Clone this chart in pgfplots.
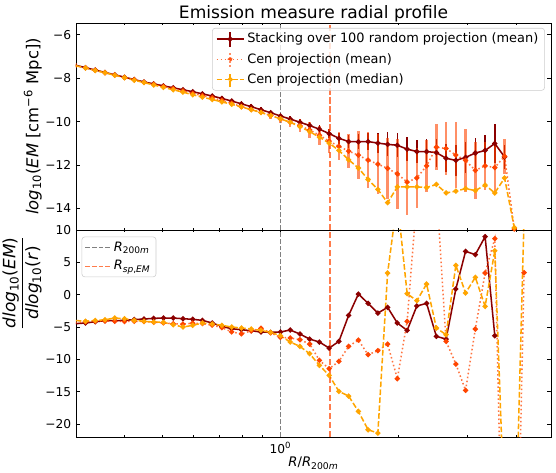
\documentclass[border=0pt]{standalone}
\usepackage{fontspec}
\setmainfont{DejaVu Sans}
\usepackage{pgfplots}
\usepackage{pgfplotstable}
\pgfplotsset{compat=1.18}

\definecolor{cDark}{HTML}{8B0000}
\definecolor{cMean}{HTML}{FF4500}
\definecolor{cMed}{HTML}{FFA500}
\definecolor{cGrey}{HTML}{808080}
\definecolor{cLeg}{HTML}{CCCCCC}

\pgfplotstableread{
x y e
0.3005 -7.40 0.08
0.3183 -7.51 0.08
0.3371 -7.62 0.08
0.3569 -7.73 0.08
0.3779 -7.84 0.08
0.4002 -7.95 0.09
0.4238 -8.06 0.09
0.4488 -8.17 0.09
0.4751 -8.26 0.09
0.5031 -8.35 0.10
0.5327 -8.44 0.10
0.5642 -8.53 0.10
0.5975 -8.62 0.10
0.6326 -8.72 0.10
0.6699 -8.82 0.11
0.7093 -8.93 0.11
0.7511 -9.05 0.11
0.7954 -9.18 0.12
0.8422 -9.31 0.12
0.8919 -9.45 0.12
0.9443 -9.59 0.13
1.0000 -9.74 0.13
1.0590 -9.88 0.14
1.1213 -10.03 0.15
1.1874 -10.18 0.16
1.2572 -10.35 0.18
1.3314 -10.55 0.22
1.4099 -10.77 0.26
1.4928 -10.92 0.30
1.5809 -10.93 0.35
1.6737 -10.92 0.40
1.7725 -10.99 0.45
1.8772 -11.05 0.55
1.9875 -11.09 0.55
2.1048 -11.27 0.55
2.2284 -11.38 0.55
2.3598 -11.38 0.60
2.4991 -11.43 0.65
2.6460 -11.69 0.65
2.8021 -11.79 0.70
2.9668 -11.65 0.70
3.1419 -11.45 0.70
3.3276 -11.33 0.72
3.5227 -11.01 0.92
3.7305 -11.63 0.55
}\tabStackTop

\pgfplotstableread{
x y e
0.3005 -7.41 0.10
0.3183 -7.52 0.10
0.3371 -7.63 0.10
0.3569 -7.74 0.10
0.3779 -7.85 0.10
0.4002 -7.96 0.10
0.4238 -8.07 0.10
0.4488 -8.18 0.10
0.4751 -8.28 0.10
0.5031 -8.38 0.10
0.5327 -8.48 0.10
0.5642 -8.59 0.12
0.5975 -8.70 0.12
0.6326 -8.80 0.12
0.6699 -8.90 0.12
0.7093 -9.02 0.12
0.7511 -9.16 0.12
0.7954 -9.31 0.12
0.8422 -9.44 0.12
0.8919 -9.57 0.12
0.9443 -9.72 0.15
1.0000 -9.87 0.18
1.0590 -10.03 0.22
1.1213 -10.19 0.30
1.1874 -10.38 0.38
1.2572 -10.63 0.45
1.3314 -10.90 0.55
1.4099 -11.14 0.65
1.4928 -11.36 0.80
1.5809 -11.55 1.10
1.6737 -11.78 1.30
1.7725 -11.96 1.40
1.8772 -12.16 1.40
1.9875 -12.41 1.60
2.1048 -12.79 1.50
2.2284 -12.60 1.40
2.3598 -12.04 1.20
2.4991 -11.18 1.05
2.6460 -11.24 1.20
2.8021 -11.54 1.50
2.9668 -11.79 1.45
3.1419 -12.25 1.30
3.3276 -12.04 1.10
3.5227 -12.12 1.10
3.7305 -11.60 0.80
3.9498 -14.95 0.00
}\tabMeanTop

\pgfplotstableread{
x y e
0.3005 -7.42 0.08
0.3183 -7.53 0.08
0.3371 -7.64 0.08
0.3569 -7.75 0.08
0.3779 -7.86 0.08
0.4002 -7.97 0.08
0.4238 -8.09 0.08
0.4488 -8.20 0.08
0.4751 -8.31 0.08
0.5031 -8.42 0.08
0.5327 -8.53 0.08
0.5642 -8.64 0.08
0.5975 -8.76 0.08
0.6326 -8.87 0.08
0.6699 -8.98 0.08
0.7093 -9.09 0.08
0.7511 -9.20 0.08
0.7954 -9.32 0.08
0.8422 -9.45 0.08
0.8919 -9.58 0.08
0.9443 -9.72 0.08
1.0000 -9.87 0.08
1.0590 -10.03 0.08
1.1213 -10.23 0.08
1.1874 -10.46 0.08
1.2572 -10.72 0.08
1.3314 -10.99 0.08
1.4099 -11.33 0.08
1.4928 -11.76 0.08
1.5809 -12.14 0.08
1.6737 -12.67 0.08
1.7725 -13.13 0.08
1.8772 -13.74 0.08
1.9875 -13.01 0.08
2.1048 -13.01 0.08
2.2284 -13.01 0.08
2.3598 -13.04 0.08
2.4991 -12.90 0.08
2.6460 -13.29 0.08
2.8021 -13.21 0.08
2.9668 -13.09 0.08
3.1419 -13.18 0.08
3.3276 -12.93 0.08
3.5227 -13.29 0.08
3.7305 -12.60 0.08
3.9498 -14.89 0.00
}\tabMedTop

\pgfplotstableread{
x y
0.3005 -4.48
0.3183 -4.38
0.3371 -4.18
0.3569 -4.02
0.3779 -4.02
0.4002 -3.97
0.4238 -3.85
0.4488 -3.76
0.4751 -3.66
0.5031 -3.61
0.5327 -3.61
0.5642 -3.71
0.5975 -3.81
0.6326 -3.97
0.6699 -4.38
0.7093 -4.90
0.7511 -5.26
0.7954 -5.41
0.8422 -5.57
0.8919 -5.77
0.9443 -5.82
1.0000 -5.77
1.0590 -5.46
1.1213 -6.08
1.1874 -6.86
1.2572 -7.32
1.3314 -8.25
1.4099 -7.22
1.4928 -3.20
1.5809 0.10
1.6737 -1.34
1.7725 -2.84
1.8772 -1.96
1.9875 -4.38
2.1048 -5.52
2.2284 -1.75
2.3598 -1.34
2.4991 -6.44
2.6460 -6.86
2.8021 0.88
2.9668 6.70
3.1419 6.19
3.3276 8.97
3.5227 -6.34
}\tabStackDer

\pgfplotstableread{
x y
0.3005 -4.30
0.3183 -4.20
0.3371 -4.10
0.3569 -4.05
0.3779 -4.10
0.4002 -4.15
0.4238 -4.10
0.4488 -4.15
0.4751 -4.25
0.5031 -4.35
0.5327 -4.50
0.5642 -4.55
0.5975 -4.40
0.6326 -4.45
0.6699 -4.70
0.7093 -5.10
0.7511 -5.75
0.7954 -6.05
0.8422 -5.60
0.8919 -5.20
0.9443 -5.90
1.0000 -6.60
1.0590 -6.70
1.1213 -6.96
1.1874 -7.63
1.2572 -10.15
1.3314 -11.44
1.4099 -10.31
1.4928 -7.99
1.5809 -7.01
1.6737 -9.28
1.7725 -8.66
1.8772 -7.63
1.9875 -12.99
2.1048 -4.12
2.2284 15.0
2.3598 29.0
2.4991 17.0
2.6460 -7.22
2.8021 -10.72
2.9668 -14.79
3.1419 -5.31
3.3276 3.35
3.5227 8.66
3.7305 -58
3.9498 -67
4.1829 3.4
}\tabMeanDer

\pgfplotstableread{
x y
0.3005 -4.00
0.3183 -4.10
0.3371 -4.00
0.3569 -3.87
0.3779 -3.61
0.4002 -3.71
0.4238 -3.97
0.4488 -4.12
0.4751 -4.23
0.5031 -4.28
0.5327 -4.64
0.5642 -5.00
0.5975 -4.74
0.6326 -4.38
0.6699 -4.54
0.7093 -4.74
0.7511 -5.00
0.7954 -5.15
0.8422 -5.31
0.8919 -5.52
0.9443 -5.82
1.0000 -6.34
1.0590 -7.32
1.1213 -7.99
1.1874 -9.12
1.2572 -10.93
1.3314 -12.47
1.4099 -14.95
1.4928 -15.67
1.5809 -18.04
1.6737 -20.88
1.7725 -21.39
1.8772 3.35
1.9875 14.7
2.1048 0.15
2.2284 -0.93
2.3598 1.65
2.4991 -5.15
2.6460 -6.19
2.8021 4.54
2.9668 0.26
3.1419 2.68
3.3276 -1.80
3.5227 6.80
3.7305 -35
3.9498 -45
4.1829 12
}\tabMedDer

\tikzset{
  darkstyle/.style={cDark, line width=1.1pt, mark=*, mark size=1.3pt, mark options={solid}},
  meanstyle/.style={draw=cMean, draw opacity=0.75, line width=1.1pt, dash pattern=on 1.1pt off 1.8pt, mark=*, mark size=1.3pt, mark options={solid, draw=cMean, fill=cMean, draw opacity=1}},
  medstyle/.style={draw=cMed, line width=1.1pt, dash pattern=on 4pt off 1.7pt, mark=*, mark size=1.3pt, mark options={solid, draw=cMed, fill=cMed}},
}

\begin{document}
\begin{tikzpicture}
% ---------------- bottom panel ----------------
\begin{axis}[name=bot, at={(0,0)}, anchor=south west,
  scale only axis, width=342pt, height=149.04pt,
  xmode=log, xmin=0.301, xmax=4.9,
  xtick={1}, minor xtick={0.4,0.5,0.6,0.7,0.8,0.9,2,3,4},
  tick align=inside, major tick length=3.2pt, minor tick length=1.8pt,
  tick style={black, line width=0.6pt},
  axis line style={line width=0.7pt},
  tick label style={font=\fontsize{8.8}{10}\selectfont},
  ymin=-22, ymax=10,
  ytick={-20,-15,-10,-5,0,5,10}, yticklabels={−20,−15,−10,−5,0,5,10},
  xticklabels={10\textsuperscript{0}},
  xlabel={\textit{R}/\textit{R}\textsubscript{200\textit{m}}},
  xlabel style={at={(axis description cs:0.5,0)}, anchor=base, yshift=-21.4pt, inner sep=0pt, font=\fontsize{9.5}{11}\selectfont},
  ylabel={\fontsize{12.2}{14}\selectfont$\displaystyle\frac{\mbox{\textit{dlog}\textsubscript{10}(\textit{EM})}}{\mbox{\textit{dlog}\textsubscript{10}(\textit{r})}}$},
  ylabel style={at={(axis description cs:-0.0716,0.744)}, anchor=south, inner sep=0pt},
  legend style={at={(axis description cs:0.012,0.968)}, anchor=north west, draw=cLeg, fill=white, fill opacity=0.8, draw opacity=1, text opacity=1, rounded corners=2pt, font=\fontsize{9.3}{11}\selectfont, inner xsep=2pt, inner ysep=1.5pt, row sep=1.2pt},
  legend cell align=left,
]
\addplot[darkstyle, forget plot] table[x=x, y=y] {\tabStackDer};
\addplot[meanstyle, forget plot] table[x=x, y=y] {\tabMeanDer};
\addplot[medstyle, forget plot] table[x=x, y=y] {\tabMedDer};
\addplot[cGrey, line width=0.75pt, dash pattern=on 3.3pt off 1.5pt,
  legend image code/.code={\draw[cGrey, line width=0.75pt, dash pattern=on 3.3pt off 1.5pt] (0pt,0pt) -- (18pt,0pt);}]
  coordinates {(1,-22) (1,10)};
\addlegendentry{\textit{R}\textsubscript{200\textit{m}}}
\addplot[cMean, draw opacity=0.7, line width=1.4pt, dash pattern=on 4.5pt off 2pt,
  legend image code/.code={\draw[cMean, line width=1.0pt, dash pattern=on 3.3pt off 1.5pt] (0pt,0pt) -- (18pt,0pt);}]
  coordinates {(1.335,-22) (1.335,10)};
\addlegendentry{\textit{R}\textsubscript{\textit{sp},\textit{EM}}}
\end{axis}

% ---------------- top panel ----------------
\begin{axis}[name=toppanel, at={(bot.north west)}, anchor=south west,
  scale only axis, width=342pt, height=149.04pt,
  xmode=log, xmin=0.301, xmax=4.9,
  xtick={1}, minor xtick={0.4,0.5,0.6,0.7,0.8,0.9,2,3,4},
  tick align=inside, major tick length=3.2pt, minor tick length=1.8pt,
  tick style={black, line width=0.6pt},
  axis line style={line width=0.7pt},
  tick label style={font=\fontsize{8.8}{10}\selectfont},
  ymin=-15, ymax=-5.45,
  ytick={-14,-12,-10,-8,-6}, yticklabels={−14,−12,−10,−8,−6},
  xticklabels={},
  title={Emission measure radial profile},
  title style={at={(axis description cs:0.5,1)}, anchor=base, yshift=-2.7pt, inner sep=0pt, font=\fontsize{12.3}{14}\selectfont},
  ylabel={\textit{log}\textsubscript{10}(\textit{EM} [cm\textsuperscript{−6} Mpc])},
  ylabel style={at={(axis description cs:-0.0716,0.5)}, anchor=south, inner sep=0pt, font=\fontsize{11.8}{14}\selectfont},
  legend style={at={(axis description cs:0.987,0.976)}, anchor=north east, draw=cLeg, fill=white, fill opacity=0.8, draw opacity=1, text opacity=1, rounded corners=2pt, font=\fontsize{9.3}{11}\selectfont, inner xsep=2.5pt, inner ysep=1.5pt, row sep=2.0pt},
  legend cell align=left,
]
\addplot[darkstyle,
  legend image code/.code={
    \draw[cDark, line width=1.1pt] (0pt,0pt) -- (19.5pt,0pt);
    \draw[cDark, line width=1.1pt] (9.75pt,-5.4pt) -- (9.75pt,5.4pt);
    \fill[cDark] (9.75pt,0pt) circle (1.3pt);},
  error bars/.cd, y dir=both, y explicit, error mark=none,
  error bar style={cDark, line width=1.1pt, solid}]
  table[x=x, y=y, y error=e] {\tabStackTop};
\addlegendentry{Stacking over 100 random projection (mean)}
\addplot[meanstyle,
  legend image code/.code={
    \draw[cMean, draw opacity=0.75, line width=1.1pt, dash pattern=on 1.1pt off 1.8pt] (0pt,0pt) -- (19.5pt,0pt);
    \draw[cMean, opacity=0.6, line width=1.6pt] (9.75pt,-5.4pt) -- (9.75pt,5.4pt);
    \fill[cMean] (9.75pt,0pt) circle (1.3pt);},
  error bars/.cd, y dir=both, y explicit, error mark=none,
  error bar style={cMean, opacity=0.6, line width=1.7pt, solid}]
  table[x=x, y=y, y error=e] {\tabMeanTop};
\addlegendentry{Cen projection (mean)}
\addplot[medstyle,
  legend image code/.code={
    \draw[cMed, line width=1.1pt, dash pattern=on 4pt off 1.7pt] (0pt,0pt) -- (19.5pt,0pt);
    \draw[cMed, line width=1.1pt] (9.75pt,-5.4pt) -- (9.75pt,5.4pt);
    \fill[cMed] (9.75pt,0pt) circle (1.3pt);},
  error bars/.cd, y dir=both, y explicit, error mark=none,
  error bar style={cMed, line width=1.1pt, solid}]
  table[x=x, y=y, y error=e] {\tabMedTop};
\addlegendentry{Cen projection (median)}
\addplot[cGrey, line width=0.75pt, dash pattern=on 3.3pt off 1.5pt, forget plot]
  coordinates {(1,-15) (1,-5.45)};
\addplot[cMean, draw opacity=0.7, line width=1.4pt, dash pattern=on 4.5pt off 2pt, forget plot]
  coordinates {(1.335,-15) (1.335,-5.45)};
\end{axis}

\pgfresetboundingbox
\path[use as bounding box] (bot.south west) ++(-54.72pt,-25.2pt) rectangle ++(400.32pt,339.84pt);
\end{tikzpicture}
\end{document}
